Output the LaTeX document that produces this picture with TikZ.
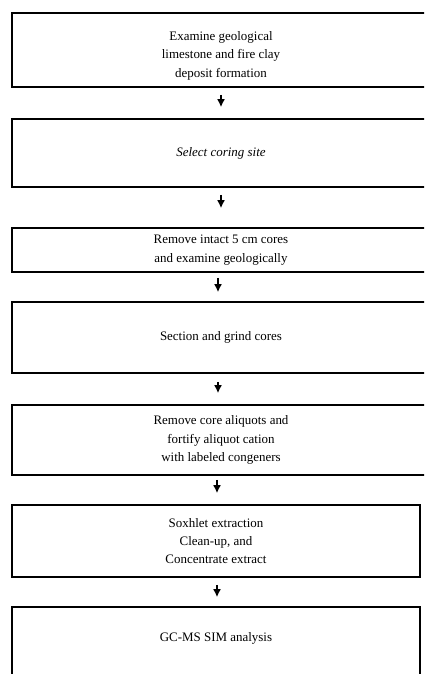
\documentclass[tikz,border=0pt]{standalone}
\usepackage{fontspec}
\setmainfont{Liberation Serif}
\usetikzlibrary{arrows.meta}
\begin{document}
\begin{tikzpicture}[x=1bp,y=-1bp,
  stepbox/.style={draw=black, line width=1.6bp, rectangle, inner sep=0pt,
    align=center, font=\fontsize{13}{18.5}\selectfont},
  wide/.style={minimum width=418bp},
  narrow/.style={minimum width=408bp},
  flow/.style={line width=1.8bp, -{Latex[length=8bp,width=8bp]}}]
\useasboundingbox (0,0) rectangle (424,674);
\clip (0,0) rectangle (424,674);
\node[stepbox, wide, minimum height=74bp] (b1) at (221,50)
  {\rule{0pt}{20bp}Examine geological\\limestone and fire clay\\deposit formation};
\node[stepbox, wide, minimum height=68bp] (b2) at (221,153)
  {\itshape Select coring site};
\node[stepbox, wide, minimum height=44bp] (b3) at (221,250)
  {Remove intact 5 cm cores\\and examine geologically};
\node[stepbox, wide, minimum height=71bp] (b4) at (221,337.5)
  {Section and grind cores};
\node[stepbox, wide, minimum height=70bp] (b5) at (221,440)
  {Remove core aliquots and\\fortify aliquot cation\\with labeled congeners};
\node[stepbox, narrow, minimum height=72bp] (b6) at (216,541)
  {Soxhlet extraction\\Clean-up, and\\Concentrate extract};
\node[stepbox, narrow, minimum height=100bp, text height=9bp, text depth=40bp] (b7) at (216,657)
  {GC-MS SIM analysis};
\draw[flow, shorten <=7bp, shorten >=11bp] (b1.south) -- (b2.north -| b1.south);
\draw[flow, shorten <=7bp, shorten >=19bp] (b2.south) -- (b3.north -| b2.south);
\draw[flow, shorten <=5bp, shorten >=9bp] ([xshift=-3bp]b3.south) -- ([xshift=-3bp]b4.north -| b3.south);
\draw[flow, shorten <=8bp, shorten >=11bp] ([xshift=-3bp]b4.south) -- ([xshift=-3bp]b5.north -| b4.south);
\draw[flow, shorten <=4bp, shorten >=11bp] ([xshift=-4bp]b5.south) -- ([xshift=-4bp]b6.north -| b5.south);
\draw[flow, shorten <=7bp, shorten >=9bp] ([xshift=1bp]b6.south) -- ([xshift=1bp]b7.north -| b6.south);
\end{tikzpicture}
\end{document}
